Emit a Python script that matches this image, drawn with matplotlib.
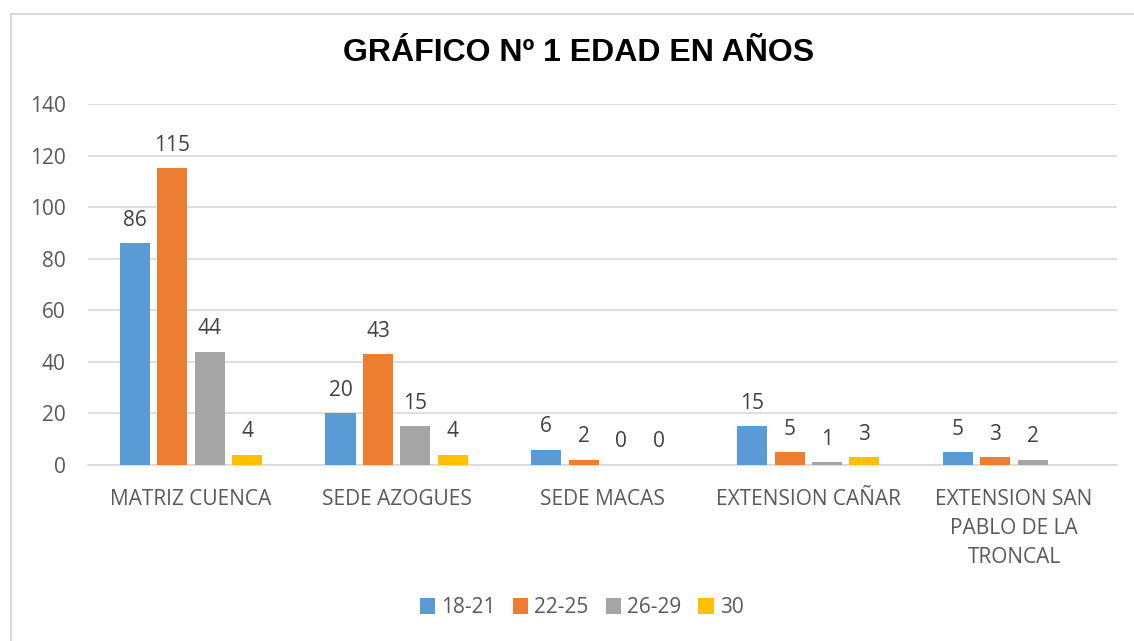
import matplotlib.pyplot as plt
import numpy as np
from matplotlib.lines import Line2D

categories = ["MATRIZ CUENCA", "SEDE AZOGUES", "SEDE MACAS", "EXTENSION CAÑAR",
              "EXTENSION SAN\nPABLO DE LA\nTRONCAL"]
series_names = ["18-21", "22-25", "26-29", "30"]
v_18_21 = [86, 20, 6, 15, 5]
v_22_25 = [115, 43, 2, 5, 3]
v_26_29 = [44, 15, 0, 1, 2]
v_30 = [4, 4, 0, 3, None]
colors = ["#5b9bd5", "#ed7d31", "#a5a5a5", "#ffc000"]

txt = "#595959"
fs = 15
fig = plt.figure(figsize=(11.34, 6.41), dpi=100)
ax = fig.add_axes([0.0776, 0.2746, 0.9074, 0.5632])

# chart frame
fig.add_artist(Line2D([11 / 1134, 11 / 1134], [0, 1 - 14 / 641], color="#d9d9d9", lw=1.5))
fig.add_artist(Line2D([11 / 1134, 1], [1 - 14 / 641, 1 - 14 / 641], color="#d9d9d9", lw=1.5))

x = np.arange(len(categories))
width = 0.146
step = 0.182
for i, (vals, name) in enumerate(zip([v_18_21, v_22_25, v_26_29, v_30], series_names)):
    pos = x + (i - 1.5) * step
    for p, v in zip(pos, vals):
        if v is None:
            continue
        ax.bar(p, v, width, color=colors[i], zorder=3)
        ax.annotate(str(v), (p, v), xytext=(0, 9), textcoords="offset points",
                    ha="center", va="bottom", fontsize=fs, color="#404040",
                    family="Open Sans")
    ax.bar(0, 0, 0, color=colors[i], label=name)

ax.set_xlim(-0.5, len(categories) - 0.5)
ax.set_ylim(0, 140)
ax.set_yticks(range(0, 141, 20))
ax.yaxis.grid(True, color="#d9d9d9", lw=1.2, zorder=0)
ax.set_axisbelow(True)
for s in ["top", "right", "left"]:
    ax.spines[s].set_visible(False)
ax.spines["bottom"].set_color("#d9d9d9")
ax.spines["bottom"].set_linewidth(1.2)
ax.tick_params(length=0, colors=txt, labelsize=fs)
ax.tick_params(axis="y", pad=16)
ax.tick_params(axis="x", pad=17)
ax.set_xticks(x)
ax.set_xticklabels(categories, family="Open Sans", linespacing=1.52)
for lab in ax.get_yticklabels():
    lab.set_family("Open Sans")

fig.text(0.51, 0.917, "GRÁFICO Nº 1 EDAD EN AÑOS", ha="center", va="center",
         fontsize=23, fontweight="bold", family="Liberation Sans")

leg = fig.legend(loc="center", bbox_to_anchor=(0.513, 0.052), ncol=4, frameon=False,
                 handlelength=0.75, handleheight=0.75, handletextpad=0.3,
                 columnspacing=0.8, prop={"family": "Open Sans", "size": fs})
for t in leg.get_texts():
    t.set_color(txt)

fig.savefig("out.png", dpi=100)
